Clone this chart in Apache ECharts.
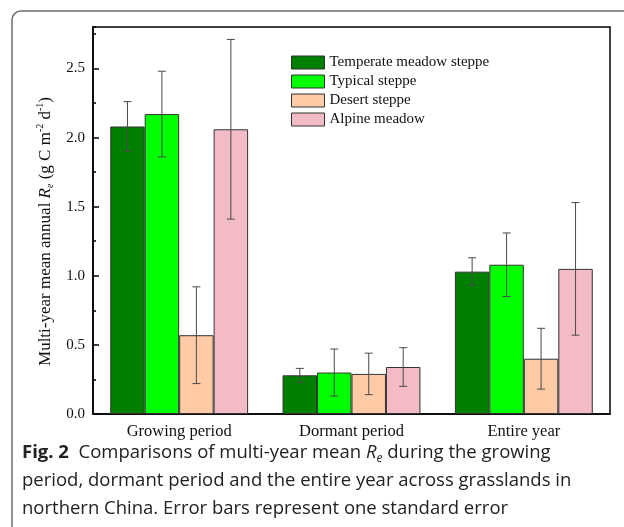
<!DOCTYPE html>
<html>
<head>
<meta charset="utf-8">
<script src="https://cdn.jsdelivr.net/npm/echarts@6/dist/echarts.min.js"></script>
<style>
  html, body { margin: 0; padding: 0; background: #fff; }
  #chart { width: 624px; height: 527px; }
</style>
</head>
<body>
<div id="chart"></div>
<script>
// Periods on the x axis
const categories = ['Growing period', 'Dormant period', 'Entire year'];

// Grassland types (legend order)
const seriesNames = ['Temperate meadow steppe', 'Typical steppe', 'Desert steppe', 'Alpine meadow'];

// Multi-year mean Re (g C m-2 d-1) per period
const temperateMeadowMean = [2.08, 0.28, 1.03];
const typicalSteppeMean   = [2.17, 0.30, 1.08];
const desertSteppeMean    = [0.57, 0.29, 0.40];
const alpineMeadowMean    = [2.06, 0.34, 1.05];

// One standard error per period
const temperateMeadowSE = [0.18, 0.05, 0.10];
const typicalSteppeSE   = [0.31, 0.17, 0.23];
const desertSteppeSE    = [0.35, 0.15, 0.22];
const alpineMeadowSE    = [0.65, 0.14, 0.48];

// Y-axis tick values
const yTicks = [0.0, 0.5, 1.0, 1.5, 2.0, 2.5];

const means = [temperateMeadowMean, typicalSteppeMean, desertSteppeMean, alpineMeadowMean];
const errors = [temperateMeadowSE, typicalSteppeSE, desertSteppeSE, alpineMeadowSE];
const colors = ['#008000', '#00ff00', '#ffcba6', '#f2bbc5'];

const serif = '"Liberation Serif", "Times New Roman", serif';
const sans = '"Open Sans", "Noto Sans", sans-serif';

const nSeries = means.length;
const categoryGap = 0.2;

const barSeries = means.map((vals, i) => ({
  name: seriesNames[i],
  type: 'bar',
  data: vals,
  barGap: '0%',
  barCategoryGap: '20%',
  itemStyle: { color: colors[i], borderColor: '#333', borderWidth: 1 },
  emphasis: { disabled: true },
  z: 2
}));

// Error bars drawn on top of each bar
const errorSeries = means.map((vals, i) => ({
  type: 'custom',
  name: seriesNames[i] + ' SE',
  data: vals.map((v, k) => [k, v - errors[i][k], v + errors[i][k]]),
  encode: { x: 0, y: [1, 2] },
  z: 5,
  silent: true,
  renderItem: function (params, api) {
    const cat = api.value(0);
    const band = api.size([1, 0])[0];
    const barW = band * (1 - categoryGap) / nSeries;
    const dx = -band * (1 - categoryGap) / 2 + barW * (i + 0.5);
    const low = api.coord([cat, api.value(1)]);
    const high = api.coord([cat, api.value(2)]);
    const x = low[0] + dx;
    const cap = 4;
    const st = { stroke: '#4a4a4a', lineWidth: 1 };
    return {
      type: 'group',
      children: [
        { type: 'line', shape: { x1: x, y1: low[1], x2: x, y2: high[1] }, style: st },
        { type: 'line', shape: { x1: x - cap, y1: high[1], x2: x + cap, y2: high[1] }, style: st },
        { type: 'line', shape: { x1: x - cap, y1: low[1], x2: x + cap, y2: low[1] }, style: st }
      ]
    };
  }
}));

const chart = echarts.init(document.getElementById('chart'), null, { renderer: 'canvas' });

const axisLineStyle = { color: '#000', width: 1.5 };

chart.setOption({
  animation: false,
  backgroundColor: '#fff',
  grid: {
    left: 93, right: 14, top: 27, bottom: 113,
    show: true, borderColor: '#000', borderWidth: 1.5, backgroundColor: 'transparent'
  },
  legend: {
    data: seriesNames,
    orient: 'vertical',
    left: 291,
    top: 55,
    padding: 0,
    itemWidth: 33,
    itemHeight: 13,
    itemGap: 4,
    icon: 'rect',
    itemStyle: { borderColor: '#333', borderWidth: 1 },
    textStyle: { fontFamily: serif, fontSize: 15, lineHeight: 13, color: '#111', padding: [0, 0, 0, 0] },
    selectedMode: false
  },
  xAxis: [
    {
      type: 'category',
      data: categories,
      position: 'bottom',
      axisLine: { lineStyle: axisLineStyle },
      axisTick: { alignWithLabel: true, length: 5, lineStyle: { color: '#000', width: 1.5 } },
      axisLabel: { fontFamily: serif, fontSize: 16.5, color: '#111', margin: 9 }
    },
    {
      type: 'category',
      data: categories,
      position: 'bottom',
      axisLine: { show: false },
      axisTick: { length: 3, lineStyle: { color: '#000', width: 1.5 } },
      axisLabel: { show: false }
    }
  ],
  yAxis: [
    {
      type: 'value',
      min: yTicks[0],
      max: 2.8,
      interval: yTicks[1] - yTicks[0],
      position: 'left',
      axisLine: { show: true, lineStyle: axisLineStyle },
      axisTick: { show: true, inside: true, length: 6, lineStyle: { color: '#000', width: 1.5 } },
      axisLabel: {
        showMaxLabel: false,
        fontFamily: serif, fontSize: 15, color: '#111', margin: 8,
        formatter: v => v.toFixed(1)
      },
      splitLine: { show: false },
      name: '{n|Multi-year mean annual }{i|R}{sub|e}{n| (g C m}{sup|-2}{n| d}{sup|-1}{n|)}',
      nameLocation: 'middle',
      nameRotate: 90,
      nameGap: 35,
      nameTextStyle: {
        color: '#111',
        padding: [0, 22, 0, 0],
        rich: {
          n: { fontFamily: serif, fontSize: 17, lineHeight: 20, color: '#111' },
          i: { fontFamily: serif, fontSize: 17, lineHeight: 20, fontStyle: 'italic', color: '#111' },
          sub: { fontFamily: serif, fontSize: 10, lineHeight: 10, fontStyle: 'italic', verticalAlign: 'bottom', color: '#111' },
          sup: { fontFamily: serif, fontSize: 10, lineHeight: 10, verticalAlign: 'top', color: '#111' }
        }
      }
    },
    {
      type: 'value',
      min: 0,
      max: 2.8,
      interval: 0.25,
      position: 'left',
      axisLine: { show: false },
      axisTick: { show: true, inside: true, length: 3, lineStyle: { color: '#000', width: 1.5 } },
      axisLabel: { show: false },
      splitLine: { show: false }
    }
  ],
  series: barSeries.concat(errorSeries),
  graphic: [
    {
      type: 'rect',
      shape: { x: 12, y: 11, width: 700, height: 600, r: 9 },
      style: { fill: 'none', stroke: '#6e6e6e', lineWidth: 1.5 },
      z: -10,
      silent: true
    },
    {
      type: 'text',
      left: 22, top: 443,
      style: {
        text: '{b|Fig. 2}{t|  Comparisons of multi-year mean }{i|R}{s|e}{t| during the growing}',
        rich: {
          b: { fontFamily: sans, fontSize: 18.5, fontWeight: 'bold', fill: '#222', lineHeight: 24 },
          t: { fontFamily: sans, fontSize: 18.5, fill: '#222', lineHeight: 24 },
          i: { fontFamily: sans, fontSize: 18.5, fontStyle: 'italic', fill: '#222', lineHeight: 24 },
          s: { fontFamily: sans, fontSize: 12, fontStyle: 'italic', fill: '#222', lineHeight: 12, verticalAlign: 'bottom' }
        }
      }
    },
    {
      type: 'text',
      left: 22, top: 471,
      style: {
        text: 'period, dormant period and the entire year across grasslands in',
        fontFamily: sans, fontSize: 18.5, fill: '#222'
      }
    },
    {
      type: 'text',
      left: 22, top: 499,
      style: {
        text: 'northern China. Error bars represent one standard error',
        fontFamily: sans, fontSize: 18.5, fill: '#222'
      }
    }
  ]
});
</script>
</body>
</html>
